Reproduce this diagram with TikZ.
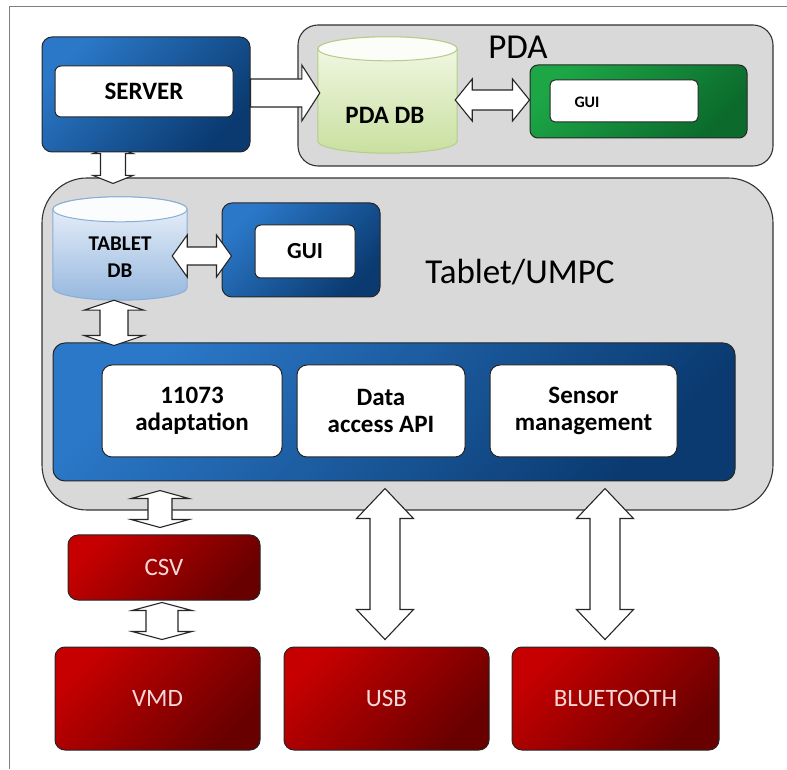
\documentclass[tikz,border=0pt]{standalone}
\usepackage{fontspec}
\setmainfont{Carlito}
\usetikzlibrary{calc,backgrounds}

\definecolor{bluelight}{HTML}{2B78C8}
\definecolor{bluedark}{HTML}{0A3A70}
\definecolor{redlight}{HTML}{C60000}
\definecolor{reddark}{HTML}{680000}
\definecolor{greenlight}{HTML}{1CA646}
\definecolor{greendark}{HTML}{0B6A2C}
\definecolor{boxgray}{HTML}{D9D9D9}
\definecolor{pdadbtop}{HTML}{F4F9E8}
\definecolor{pdadbbot}{HTML}{C9E0A0}
\definecolor{pdadbline}{HTML}{B5CC8A}
\definecolor{tdbtop}{HTML}{EEF4FB}
\definecolor{tdbbot}{HTML}{96B8DF}
\definecolor{tdbline}{HTML}{8AADD6}
\definecolor{pinktext}{HTML}{F6D8D8}
\definecolor{framegray}{HTML}{7F7F7F}

\tikzset{
	graybox/.style={draw=black!80, line width=1.1pt, fill=boxgray, inner sep=0pt},
	bluebox/.style={draw=black!85, line width=1pt, rounded corners=10pt, top color=bluelight, bottom color=bluedark, shading angle=45, inner sep=0pt},
	greenbox/.style={draw=black!85, line width=1pt, rounded corners=8pt, top color=greenlight, bottom color=greendark, shading angle=45, inner sep=0pt},
	redbox/.style={draw=black!85, line width=1pt, rounded corners=10pt, top color=redlight, bottom color=reddark, shading angle=45, inner sep=0pt, text=pinktext, font=\fontsize{25}{29}\selectfont},
	whitebox/.style={draw=black!85, line width=1pt, rounded corners=6pt, fill=white, inner sep=0pt, align=center, font=\fontsize{25}{27}\selectfont\bfseries},
	dbspot/.style={minimum width=#1, inner sep=0pt},
	blkarrow/.style={draw=black!85, fill=white, line width=1.1pt, line join=miter},
	biglabel/.style={font=\fontsize{35}{40}\selectfont}
}

\begin{document}
\begin{tikzpicture}[x=1pt,y=1pt]
	\useasboundingbox (0,0) rectangle (787,769);
	\draw[framegray, line width=1pt] (9,0) -- (9,762) -- (787,762);

	% server
	\node[bluebox, minimum width=208, minimum height=115] (srv) at (146,674.5) {};
	\node[whitebox, minimum width=178, minimum height=51] (srvin) at (144,677.5) {SERVER};

	% containers
	\begin{pgfonlayer}{background}
	\node[graybox, rounded corners=20pt, minimum width=475, minimum height=141] (pda) at (535.5,673.5) {};
	\node[graybox, rounded corners=45pt, minimum width=731, minimum height=332] (tab) at (407.5,425) {};
	\draw[blkarrow] let \p1=(srv.south), \p2=(tab.north), \n1={\x1-33}, \n2={\y1+7}, \n3={\y2-6} in
		(\n1,\n2) -- (\n1+20,\n2-8) -- (\n1+12.5,\n2-8) -- (\n1+12.5,\n3+8) -- (\n1+20,\n3+8) -- (\n1,\n3)
		-- (\n1-20,\n3+8) -- (\n1-12.5,\n3+8) -- (\n1-12.5,\n2-8) -- (\n1-20,\n2-8) -- cycle;
	\end{pgfonlayer}
	\node[biglabel] (pdalbl) at (518,722) {PDA};
	\node[biglabel] (tablbl) at (520,497) {Tablet/UMPC};

	% PDA
	\node[dbspot=139, minimum height=116] (pdadb) at (387.5,674) {};
	\draw[draw=pdadbline, line width=1pt, top color=pdadbtop, bottom color=pdadbbot]
		let \p1=(pdadb.north west), \p2=(pdadb.south east), \n1={(\x2-\x1)/2} in
		(\x1,\y1-12pt) -- (\x1,\y2+12pt) arc[start angle=180, end angle=360, x radius=\n1, y radius=12pt]
		-- (\x2,\y1-12pt) arc[start angle=0, end angle=180, x radius=\n1, y radius=12pt] -- cycle;
	\draw[draw=pdadbline, line width=1pt, fill=white!70!pdadbtop]
		let \p1=(pdadb.north), \p2=(pdadb.east), \n1={\x2-\x1} in
		(\x1,\y1-12pt) ellipse[x radius=\n1, y radius=12pt];
	\node[font=\fontsize{25}{29}\selectfont\bfseries] (pdadbtxt) at (385,654) {PDA DB};
	\node[greenbox, minimum width=217, minimum height=73] (pgui) at (638.5,667.5) {};
	\node[whitebox, rounded corners=5pt, minimum width=148, minimum height=42] (pguiin) at (624,668) {};
	\node[font=\fontsize{16}{18}\selectfont\bfseries] (pguitxt) at (587,667) {GUI};
	\draw[blkarrow] let \p1=(srv.east), \p2=(pdadb.west), \n1={\y1+1.5} in
		(\x1,\n1+14) -- (\x2-16,\n1+14) -- (\x2-16,\n1+28) -- (\x2+2,\n1) -- (\x2-16,\n1-28) -- (\x2-16,\n1-14) -- (\x1,\n1-14) -- cycle;
	\draw[blkarrow] let \p1=(pdadb.east), \p2=(pgui.west), \n1={\y2+1.5} in
		(\x1-2,\n1) -- (\x1+15,\n1+21) -- (\x1+15,\n1+10) -- (\x2-17,\n1+10) -- (\x2-17,\n1+21) -- (\x2,\n1)
		-- (\x2-17,\n1-21) -- (\x2-17,\n1-10) -- (\x1+15,\n1-10) -- (\x1+15,\n1-21) -- cycle;

	% tablet
	\node[dbspot=134, minimum height=103] (tdb) at (120,520.5) {};
	\draw[draw=tdbline, line width=1pt, top color=tdbtop, bottom color=tdbbot]
		let \p1=(tdb.north west), \p2=(tdb.south east), \n1={(\x2-\x1)/2} in
		(\x1,\y1-12.5pt) -- (\x1,\y2+12.5pt) arc[start angle=180, end angle=360, x radius=\n1, y radius=12.5pt]
		-- (\x2,\y1-12.5pt) arc[start angle=0, end angle=180, x radius=\n1, y radius=12.5pt] -- cycle;
	\draw[draw=tdbline, line width=1pt, fill=white!70!tdbtop]
		let \p1=(tdb.north), \p2=(tdb.east), \n1={\x2-\x1} in
		(\x1,\y1-12.5pt) ellipse[x radius=\n1, y radius=12.5pt];
	\node[font=\fontsize{21}{27}\selectfont\bfseries, align=center] (tdbtxt) at (120,512) {TABLET\\DB};
	\node[bluebox, minimum width=158, minimum height=94] (tgui) at (301,519) {};
	\node[whitebox, minimum width=100, minimum height=53, font=\fontsize{23}{27}\selectfont\bfseries] (tguiin) at (305,517.5) {GUI};
	\draw[blkarrow] let \p1=(tdb.east), \p2=(tgui.west), \n1={\y2-6} in
		(\x1-15,\n1) -- (\x1,\n1+21) -- (\x1,\n1+9) -- (\x2-5,\n1+9) -- (\x2-5,\n1+21) -- (\x2+10,\n1)
		-- (\x2-5,\n1-21) -- (\x2-5,\n1-9) -- (\x1,\n1-9) -- (\x1,\n1-21) -- cycle;

	\node[bluebox, rounded corners=12pt, minimum width=682, minimum height=138] (mod) at (394,357) {};
	\node[whitebox, rounded corners=10pt, minimum width=180, minimum height=92] (adapt) at (192,358) {11073\\adaptation};
	\node[whitebox, rounded corners=10pt, minimum width=168, minimum height=92] (api) at (381,358) {Data\\access API};
	\node[whitebox, rounded corners=10pt, minimum width=187, minimum height=92] (sensor) at (583.5,358) {Sensor\\management};
	\draw[blkarrow] let \p1=(tdb.south), \p2=(mod.north), \n1={\x1-6}, \n2={\y1}, \n3={\y2-3} in
		(\n1,\n2) -- (\n1+30,\n2-10) -- (\n1+14,\n2-10) -- (\n1+14,\n3+10) -- (\n1+30,\n3+10) -- (\n1,\n3)
		-- (\n1-30,\n3+10) -- (\n1-14,\n3+10) -- (\n1-14,\n2-10) -- (\n1-30,\n2-10) -- cycle;

	% devices
	\node[redbox, minimum width=192, minimum height=65] (csv) at (164,201.5) {CSV};
	\node[redbox, minimum width=205, minimum height=103] (vmd) at (157.5,70.5) {VMD};
	\node[redbox, minimum width=205, minimum height=103] (usb) at (386.5,70.5) {USB};
	\node[redbox, minimum width=207, minimum height=103] (bt) at (615.5,70.5) {BLUETOOTH};

	\draw[blkarrow] let \p1=(tab.south), \p2=(csv.north), \n1={\x2-4}, \n2={\y1+20}, \n3={\y2+7} in
		(\n1,\n2) -- (\n1+29,\n2-8) -- (\n1+12,\n2-8) -- (\n1+12,\n3+8) -- (\n1+29,\n3+8) -- (\n1,\n3)
		-- (\n1-29,\n3+8) -- (\n1-12,\n3+8) -- (\n1-12,\n2-8) -- (\n1-29,\n2-8) -- cycle;
	\draw[blkarrow] let \p1=(csv.south), \p2=(vmd.north), \n1={\x1-2}, \n2={\y1-2}, \n3={\y2+7} in
		(\n1,\n2) -- (\n1+30,\n2-8) -- (\n1+16,\n2-8) -- (\n1+16,\n3+8) -- (\n1+30,\n3+8) -- (\n1,\n3)
		-- (\n1-30,\n3+8) -- (\n1-16,\n3+8) -- (\n1-16,\n2-8) -- (\n1-30,\n2-8) -- cycle;
	\draw[blkarrow] let \p1=(tab.south), \p2=(usb.north), \n1={\x2-1.5}, \n2={\y1+22}, \n3={\y2+7} in
		(\n1,\n2) -- (\n1+28.5,\n2-30) -- (\n1+15,\n2-30) -- (\n1+15,\n3+30) -- (\n1+28.5,\n3+30) -- (\n1,\n3)
		-- (\n1-28.5,\n3+30) -- (\n1-15,\n3+30) -- (\n1-15,\n2-30) -- (\n1-28.5,\n2-30) -- cycle;
	\draw[blkarrow] let \p1=(tab.south), \p2=(bt.north), \n1={\x2-10.5}, \n2={\y1+22}, \n3={\y2+7} in
		(\n1,\n2) -- (\n1+28.5,\n2-30) -- (\n1+15,\n2-30) -- (\n1+15,\n3+30) -- (\n1+28.5,\n3+30) -- (\n1,\n3)
		-- (\n1-28.5,\n3+30) -- (\n1-15,\n3+30) -- (\n1-15,\n2-30) -- (\n1-28.5,\n2-30) -- cycle;
\end{tikzpicture}
\end{document}
